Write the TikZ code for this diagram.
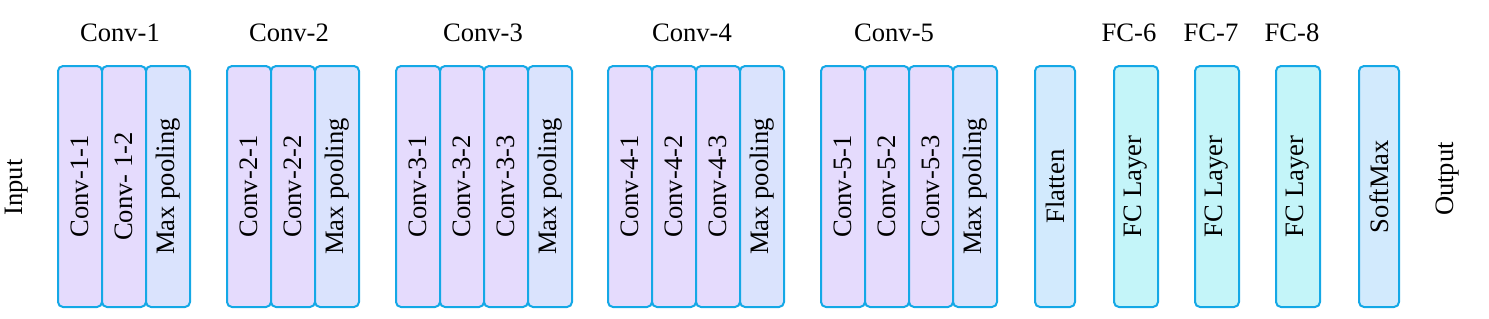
\documentclass[tikz,border=0pt]{standalone}
\usepackage{fontspec}
\setmainfont{Liberation Serif}
\usetikzlibrary{positioning}
\definecolor{layerBorder}{HTML}{14A8E6}
\definecolor{convFill}{HTML}{E5DBFD}
\definecolor{poolFill}{HTML}{DAE3FD}
\definecolor{flatFill}{HTML}{D2EAFD}
\definecolor{fcFill}{HTML}{C4F5F9}

\begin{document}
\begin{tikzpicture}[
    node distance=18.5pt,
    every node/.style={font=\fontsize{13.3}{16}\selectfont},
    layer/.style={draw=layerBorder, line width=1pt, rounded corners=2.5pt, minimum width=22pt, minimum height=120.5pt, outer sep=0pt, inner sep=0pt},
    conv/.style={layer, fill=convFill, label={[rotate=90]center:#1}},
    pool/.style={layer, fill=poolFill, label={[rotate=90]center:Max pooling}},
    flat/.style={layer, fill=flatFill, minimum width=20pt, label={[rotate=90]center:#1}},
    fc/.style={layer, fill=fcFill, label={[rotate=90]center:FC Layer}},
    title/.style={inner sep=0pt}
]
    \useasboundingbox (0,0) rectangle (744.5pt,159pt);

    \node[rotate=90] (In) at (8.5pt,65.25pt) {Input};

    % block 1
    \node[conv=Conv-1-1] (C11) at (40pt,65.75pt) {};
    \node[conv={Conv- 1-2}, right=0pt of C11] (C12) {};
    \node[pool, right=0pt of C12] (P1) {};
    % block 2
    \node[conv=Conv-2-1, right=of P1] (C21) {};
    \node[conv=Conv-2-2, right=0pt of C21] (C22) {};
    \node[pool, right=0pt of C22] (P2) {};
    % block 3
    \node[conv=Conv-3-1, right=of P2] (C31) {};
    \node[conv=Conv-3-2, right=0pt of C31] (C32) {};
    \node[conv=Conv-3-3, right=0pt of C32] (C33) {};
    \node[pool, right=0pt of C33] (P3) {};
    % block 4
    \node[conv=Conv-4-1, right=18pt of P3] (C41) {};
    \node[conv=Conv-4-2, right=0pt of C41] (C42) {};
    \node[conv=Conv-4-3, right=0pt of C42] (C43) {};
    \node[pool, right=0pt of C43] (P4) {};
    % block 5
    \node[conv=Conv-5-1, right=18.5pt of P4] (C51) {};
    \node[conv=Conv-5-2, right=0pt of C51] (C52) {};
    \node[conv=Conv-5-3, right=0pt of C52] (C53) {};
    \node[pool, right=0pt of C53] (P5) {};
    % classifier
    \node[flat=Flatten, right=19pt of P5] (Fl) {};
    \node[fc, right=19.5pt of Fl] (FC6) {};
    \node[fc, right=of FC6] (FC7) {};
    \node[fc, right=of FC7] (FC8) {};
    \node[flat=SoftMax, right=19.5pt of FC8] (SM) {};

    \node[rotate=90] (Out) at (724pt,69.5pt) {Output};

    % titles
    \node[title] (T1) at (60pt,142.5pt) {Conv-1};
    \node[title] (T2) at (144.5pt,142.5pt) {Conv-2};
    \node[title] (T3) at (241.5pt,142.5pt) {Conv-3};
    \node[title] (T4) at (346pt,142.5pt) {Conv-4};
    \node[title] (T5) at (447pt,142.5pt) {Conv-5};
    \node[title] (T6) at (564.5pt,142.5pt) {FC-6};
    \node[title] (T7) at (605.5pt,142.5pt) {FC-7};
    \node[title] (T8) at (646pt,142.5pt) {FC-8};
\end{tikzpicture}
\end{document}
